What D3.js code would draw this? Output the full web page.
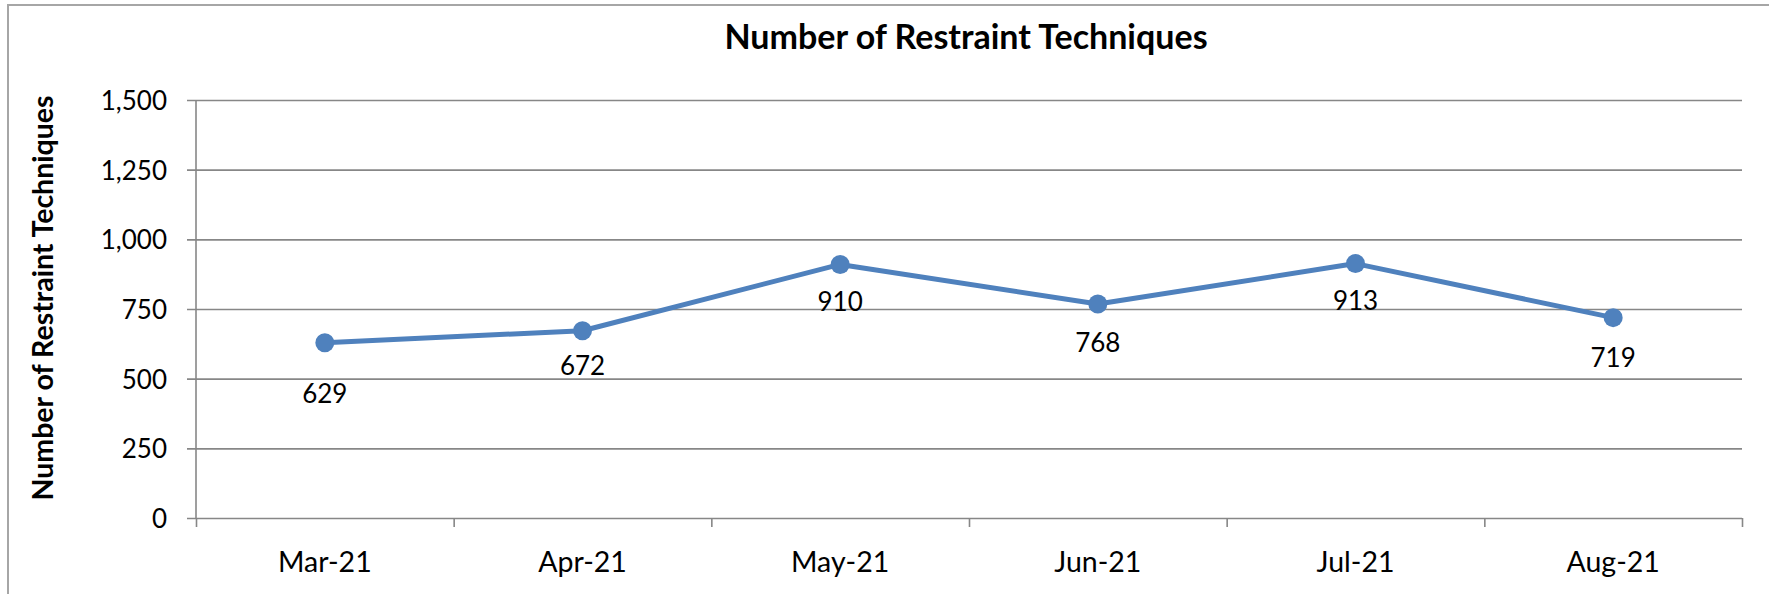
<!DOCTYPE html>
<html>
<head>
<meta charset="utf-8">
<script src="https://cdn.jsdelivr.net/npm/d3@7"></script>
<style>
  html, body { margin: 0; padding: 0; background: #fff; overflow: hidden; }
  text { font-family: Lato, "Open Sans", sans-serif; fill: #000; }
</style>
</head>
<body>
<script>
// chart data
const months = ["Mar-21", "Apr-21", "May-21", "Jun-21", "Jul-21", "Aug-21"];
const restraints = [629, 672, 910, 768, 913, 719];
const yTicks = [0, 250, 500, 750, 1000, 1250, 1500];
const chartTitle = "Number of Restraint Techniques";
const yTitle = "Number of Restraint Techniques";

const W = 1769, H = 594;
const plotL = 196, plotR = 1742, plotT = 100, plotB = 518;
const blue = "#4f81bd", grey = "#878787";

// label offset below each point (629 sits a bit lower in the original)
const labelDy = [60, 44, 47, 48, 46, 49];

const svg = d3.select("body").append("svg")
    .attr("width", W)
    .attr("height", H);

// chart frame, cut off at right and bottom like the original
svg.append("rect")
    .attr("x", 8).attr("y", 5)
    .attr("width", W + 20).attr("height", H + 20)
    .attr("fill", "none")
    .attr("stroke", "#a6a6a6")
    .attr("stroke-width", 2);

const y = d3.scaleLinear().domain([0, 1500]).range([plotB, plotT]);
const xb = d3.scaleBand().domain(months).range([plotL, plotR]);
const xTick = d3.scaleLinear().domain([0, months.length]).range([plotL, plotR]);

// gridlines + y tick labels
const yAxis = svg.append("g")
    .attr("transform", `translate(${plotL - 9},0)`)
    .call(d3.axisLeft(y)
        .tickValues(yTicks)
        .tickSize(-(plotR - plotL + 9))
        .tickPadding(20)
        .tickFormat(d3.format(",")));
yAxis.select(".domain").remove();
yAxis.selectAll("line").attr("stroke", grey).attr("stroke-width", 1.6);
yAxis.selectAll("text").style("font-size", "26px").attr("dy", "0.36em");

// y axis line
svg.append("line")
    .attr("x1", plotL).attr("x2", plotL)
    .attr("y1", plotT).attr("y2", plotB)
    .attr("stroke", grey).attr("stroke-width", 1.6);

// x axis category boundary ticks
const xAxis = svg.append("g")
    .attr("transform", `translate(0,${plotB})`)
    .call(d3.axisBottom(xTick)
        .tickValues(d3.range(months.length + 1))
        .tickSize(9)
        .tickSizeOuter(0)
        .tickFormat(""));
xAxis.select(".domain").remove();
xAxis.selectAll("line").attr("stroke", grey).attr("stroke-width", 1.6);

// x category labels
const xLab = svg.append("g")
    .attr("transform", `translate(0,${plotB})`)
    .call(d3.axisBottom(xb).tickSize(0).tickPadding(34));
xLab.select(".domain").remove();
xLab.selectAll("text").style("font-size", "28.5px");

// series line
const line = d3.line()
    .x((d, i) => xb(months[i]) + xb.bandwidth() / 2)
    .y(d => y(d));

svg.append("path")
    .datum(restraints)
    .attr("d", line)
    .attr("fill", "none")
    .attr("stroke", blue)
    .attr("stroke-width", 5)
    .attr("stroke-linejoin", "round");

svg.selectAll("circle.pt")
    .data(restraints)
    .enter()
    .append("circle")
    .attr("class", "pt")
    .attr("cx", (d, i) => xb(months[i]) + xb.bandwidth() / 2)
    .attr("cy", d => y(d))
    .attr("r", 9.5)
    .attr("fill", blue);

// data labels
svg.selectAll("text.lbl")
    .data(restraints)
    .enter()
    .append("text")
    .attr("class", "lbl")
    .attr("x", (d, i) => xb(months[i]) + xb.bandwidth() / 2)
    .attr("y", (d, i) => y(d) + labelDy[i])
    .attr("text-anchor", "middle")
    .style("font-size", "26px")
    .text(d => d);

// titles
svg.append("text")
    .attr("x", 966).attr("y", 49)
    .attr("text-anchor", "middle")
    .style("font-size", "34px")
    .style("font-weight", "bold")
    .text(chartTitle);

svg.append("text")
    .attr("transform", `translate(53,298) rotate(-90)`)
    .attr("text-anchor", "middle")
    .style("font-size", "28.5px")
    .style("font-weight", "bold")
    .text(yTitle);
</script>
</body>
</html>
